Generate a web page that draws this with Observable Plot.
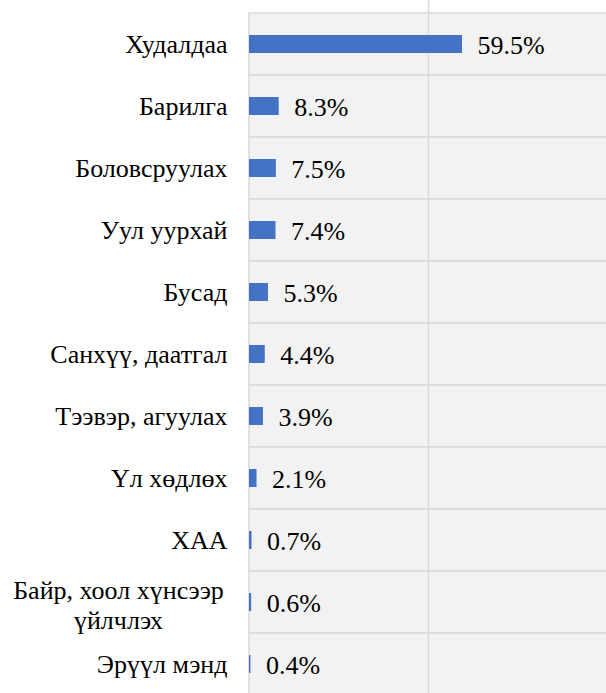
<!DOCTYPE html>
<html>
<head>
<meta charset="utf-8">
<script src="https://cdn.jsdelivr.net/npm/d3@7"></script>
<script src="https://cdn.jsdelivr.net/npm/@observablehq/plot@0.6"></script>
<style>
  body { margin: 0; font-family: "Liberation Serif", Tinos, "Times New Roman", serif; }
  #chart svg { display: block; }
  #chart svg text, #chart svg tspan { font-family: "Liberation Serif", Tinos, "Times New Roman", serif !important; }
</style>
</head>
<body>
<div id="chart"></div>
<script>
const categories = [
  "Худалдаа",
  "Барилга",
  "Боловсруулах",
  "Уул уурхай",
  "Бусад",
  "Санхүү, даатгал",
  "Тээвэр, агуулах",
  "Үл хөдлөх",
  "ХАА",
  "Байр, хоол хүнсээр\nүйлчлэх",
  "Эрүүл мэнд"
];
const values = [59.5, 8.3, 7.5, 7.4, 5.3, 4.4, 3.9, 2.1, 0.7, 0.6, 0.4];
const gridTicks = [50];

const data = categories.map((c, i) => ({
  category: c,
  value: values[i],
  label: values[i].toFixed(1) + "%",
  multi: c.includes("\n")
}));

const serifStack = "Liberation Serif, Tinos, Times New Roman, serif";

const chart = Plot.plot({
  width: 606,
  height: 693,
  margin: 0,
  style: { fontFamily: serifStack },
  x: { domain: [0, 100], range: [249, 607], axis: null },
  y: { domain: categories, range: [13, 695], padding: 0, axis: null },
  marks: [
    Plot.barX(data, { x1: d => 0, x2: d => 100, y: "category", fill: "#f2f2f2", stroke: "#d9d9d9", strokeWidth: 1.5 }),
    Plot.ruleX(gridTicks, { stroke: "#d9d9d9", strokeWidth: 1.5 }),
    Plot.barX(data, { x: "value", y: "category", fill: "#4472c4", insetTop: 22, insetBottom: 22 }),
    Plot.text(data, { x: "value", y: "category", text: "label", textAnchor: "start", dx: 15, dy: 1, fontSize: 26, fontFamily: serifStack, fill: "black" }),
    Plot.text(data.filter(d => !d.multi), { x: d => 0, y: "category", text: "category", textAnchor: "end", dx: -22, fontSize: 26, fontFamily: serifStack, fill: "black" }),
    Plot.text(data.filter(d => d.multi), { x: d => 0, y: "category", text: "category", textAnchor: "middle", dx: -131, dy: 2, fontSize: 26, lineHeight: 1.15, fontFamily: serifStack, fill: "black" })
  ]
});
chart.querySelectorAll("text").forEach(t => t.setAttribute("font-family", serifStack));
document.getElementById("chart").appendChild(chart);
</script>
</body>
</html>
